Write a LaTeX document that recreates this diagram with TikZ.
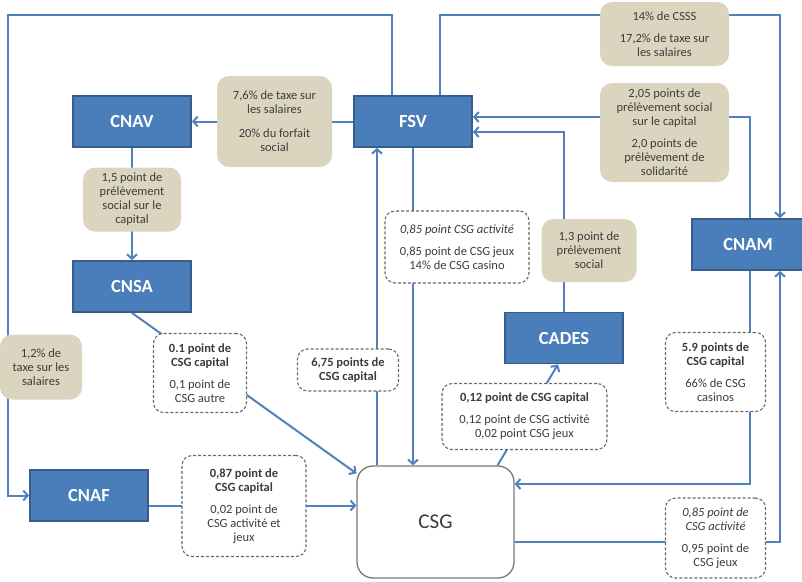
\documentclass[tikz,border=0pt]{standalone}
\usepackage{fontspec}
\setmainfont{Carlito}
\usetikzlibrary{arrows.meta,backgrounds}
\definecolor{fundblue}{RGB}{74,126,187}
\definecolor{fundedge}{RGB}{56,93,138}
\definecolor{flowblue}{RGB}{79,129,189}
\definecolor{taxtan}{RGB}{219,213,191}
\definecolor{dashgray}{RGB}{105,105,105}
\definecolor{txtgray}{RGB}{60,60,60}
\begin{document}
\begin{tikzpicture}[x=1pt,y=-1pt]

	\tikzset{
	  fund/.style={
		draw=fundedge,
		fill=fundblue,
		line width=1.8pt,
		text=white,
		font=\fontsize{18.5}{20}\selectfont\bfseries,
		minimum width=118pt,
		minimum height=51pt,
	  },
	  taxbox/.style={
		fill=taxtan,
		rounded corners=12pt,
		align=center,
		text=txtgray,
		inner sep=0pt,
		font=\fontsize{12.5}{14}\selectfont,
	  },
	  csgbox/.style={
		draw=dashgray,
		fill=white,
		line width=1.1pt,
		dash pattern=on 3pt off 2pt,
		rounded corners=10pt,
		align=center,
		text=txtgray,
		inner sep=0pt,
		font=\fontsize{12.5}{14}\selectfont,
	  },
	  flow/.style={draw=flowblue, line width=2pt},
	  arr/.style={-{Straight Barb[length=4.5pt,width=10pt]}},
	}
	\useasboundingbox (0,0) rectangle (802,581);
		\node[fund] (cnav) at (132,121.5) {CNAV};
		\node[fund] (fsv) at (413,121.5) {FSV};
		\node[fund] (cnsa) at (132,286.5) {CNSA};
		\node[fund] (cnaf) at (89,495.5) {CNAF};
		\node[fund] (cades) at (564,338) {CADES};
		\node[fund, minimum width=112pt] (cnam) at (748,244.5) {CNAM};
		\node[draw={rgb,255:red,120;green,120;blue,120}, line width=1.3pt, fill=white, rounded corners=16pt, minimum width=157pt, minimum height=112pt, text=txtgray, font=\fontsize{21}{24}\selectfont] (csg) at (435.5,522) {CSG};
		\node[taxbox, minimum width=115pt, minimum height=91pt] (taxcnav) at (274.5,121.5) {7,6\% de taxe sur\\les salaires\\[10pt]20\% du forfait\\social};
		\node[taxbox, minimum width=98pt, minimum height=64pt] (taxcnsa) at (132,199.5) {1,5 point de\\prélèvement\\social sur le\\capital};
		\node[taxbox, minimum width=82pt, minimum height=65pt] (taxcnaf) at (41,367) {1,2\% de\\taxe sur les\\salaires};
		\node[taxbox, minimum width=129pt, minimum height=64pt] (taxcsss) at (664.5,34) {14\% de CSSS\\[8pt]17,2\% de taxe sur\\les salaires};
		\node[taxbox, minimum width=129pt, minimum height=99pt] (taxcap) at (664.5,132.5) {2,05 points de\\prélèvement social\\sur le capital\\[8pt]2,0 points de\\prélèvement de\\solidarité};
		\node[taxbox, minimum width=95pt, minimum height=63pt] (taxcades) at (589,250.5) {1,3 point de\\prélèvement\\social};
		\node[csgbox, minimum width=93pt, minimum height=79pt] (cnsacsg) at (200,373) {\textbf{0.1 point de}\\\textbf{CSG capital}\\[8pt]0,1 point de\\CSG autre};
		\node[csgbox, minimum width=101pt, minimum height=42pt] (fsvcsg) at (348,370) {\textbf{6,75 points de}\\\textbf{CSG capital}};
		\node[csgbox, minimum width=144pt, minimum height=72pt] (csgfsv) at (457,247) {\textit{0,85 point CSG activité}\\[8pt]0,85 point de CSG jeux\\14\% de CSG casino};
		\node[csgbox, minimum width=165pt, minimum height=66pt] (cadescsg) at (524.5,416.5) {\textbf{0,12 point de CSG capital}\\[8pt]0,12 point de CSG activité\\0,02 point CSG jeux};
		\node[csgbox, minimum width=100pt, minimum height=79pt] (cnamcsg) at (715.5,372) {\textbf{5.9 points de}\\\textbf{CSG capital}\\[8pt]66\% de CSG\\casinos};
		\node[csgbox, minimum width=124pt, minimum height=101pt] (cnafcsg) at (244,506) {\textbf{0,87 point de}\\\textbf{CSG capital}\\[8pt]0,02 point de\\CSG activité et\\jeux};
		\node[csgbox, minimum width=100pt, minimum height=80pt] (csgcnam) at (715.5,538) {\textit{0,85 point de}\\\textit{CSG activité}\\[8pt]0,95 point de\\CSG jeux};
	\begin{scope}[on background layer]
		\coordinate (fsvin) at ([xshift=-36pt]fsv.south);
		\coordinate (cnafout) at ([yshift=-10pt]cnaf.east);
		\draw[flow,arr] (fsv) -- (cnav);
		\draw[flow,arr] ([xshift=-21pt]fsv.north) |- (8,15) |- (cnaf.west);
		\draw[flow,arr] ([xshift=27pt]fsv.north) |- (780,15) -- ([xshift=32pt]cnam.north);
		\draw[flow,arr] ([xshift=2pt]cnam.north) |- ([yshift=4.5pt]fsv.east);
		\draw[flow,arr] (cades.north) |- ([yshift=-10.5pt]fsv.east);
		\draw[flow,arr] (csg.north -| fsvin) -- (fsvin);
		\draw[flow,arr] (fsv.south) -- (fsv.south |- csg.north);
		\draw[flow,arr] (cnav) -- (cnsa);
		\draw[flow,arr] (cnsa.south) -- ([yshift=-8pt]csg.north west);
		\draw[flow,arr] (cnafout) -- (cnafout -| csg.west);
		\draw[flow,arr] ([xshift=62pt]csg.north) -- ([xshift=-6pt]cades.south);
		\draw[flow,arr] ([xshift=2pt]cnam.south) |- ([yshift=38pt]csg.east);
		\draw[flow,arr] ([yshift=-20pt]csg.east) -| ([xshift=32pt]cnam.south);
	\end{scope}

\end{tikzpicture}
\end{document}
